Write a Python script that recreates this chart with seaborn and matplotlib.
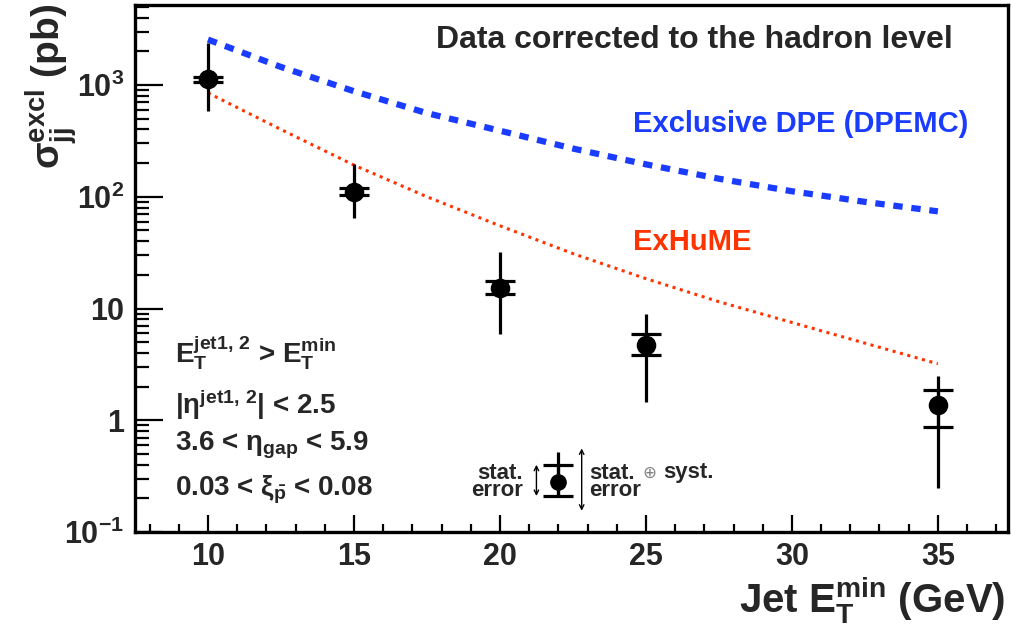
import numpy as np
import pandas as pd
import matplotlib
matplotlib.use("Agg")
import matplotlib.pyplot as plt
import seaborn as sns

# Measured exclusive dijet cross sections
et_min = [10, 15, 20, 25, 35]
sigma = [1130, 110, 15.4, 4.75, 1.38]
stat_lo = [1070, 104, 13.6, 3.87, 0.875]
stat_hi = [1190, 121, 17.8, 5.97, 1.88]
tot_lo = [585, 64, 5.97, 1.47, 0.248]
tot_hi = [2380, 196, 31.8, 9.0, 2.51]

# Model predictions
model_et = [10, 12.5, 15, 17.5, 20, 22.5, 25, 27.5, 30, 32.5, 35]
dpemc = [2550, 1450, 880, 560, 390, 270, 195, 145, 112, 90, 74]
exhume = [850, 400, 192, 100, 55, 31, 18.5, 11.5, 7.5, 4.9, 3.2]

x_ticks = [10, 15, 20, 25, 30, 35]
y_ticks = [0.1, 1, 10, 100, 1000]
y_tick_labels = ["10$^{-1}$", "1", "10", "10$^{2}$", "10$^{3}$"]

sns.set_style("ticks")
plt.rcParams["font.family"] = ["Liberation Sans", "DejaVu Sans"]
plt.rcParams["font.weight"] = "bold"
plt.rcParams["mathtext.fontset"] = "custom"
plt.rcParams["mathtext.rm"] = "Liberation Sans:bold"
plt.rcParams["mathtext.it"] = "Liberation Sans:bold"
plt.rcParams["mathtext.bf"] = "Liberation Sans:bold"
plt.rcParams["mathtext.sf"] = "Liberation Sans:bold"
plt.rcParams["mathtext.default"] = "rm"

BLUE = "#1a3cff"
RED = "#ff3300"

fig = plt.figure(figsize=(10.11, 6.24), dpi=100)
ax = fig.add_axes([0.1335, 0.1474, 0.8635, 0.8446])
ax.set_yscale("log")

models = pd.DataFrame({"et": model_et, "dpemc": dpemc, "exhume": exhume})
sns.lineplot(data=models, x="et", y="dpemc", ax=ax, color=BLUE, lw=4.5,
             linestyle=(0, (1.5, 1.4)), legend=False)
sns.lineplot(data=models, x="et", y="exhume", ax=ax, color=RED, lw=2.2,
             linestyle=(0, (1.0, 1.5)), legend=False)

meas = pd.DataFrame({"et": et_min, "sigma": sigma})
s = np.array(sigma)
ax.errorbar(et_min, sigma, yerr=[s - np.array(tot_lo), np.array(tot_hi) - s],
            fmt="none", ecolor="black", elinewidth=2.3, capsize=0)
ax.errorbar(et_min, sigma, yerr=[s - np.array(stat_lo), np.array(stat_hi) - s],
            fmt="none", ecolor="black", elinewidth=2.3, capsize=10.5, capthick=2.3)
sns.scatterplot(data=meas, x="et", y="sigma", ax=ax, color="black", s=170,
                edgecolor="black", zorder=5, legend=False)
ax.set_xlabel("")
ax.set_ylabel("")

# Error legend sketch
ax.errorbar([22], [0.28], yerr=[[0.28 - 0.21], [0.52 - 0.28]], fmt="none",
            ecolor="black", elinewidth=2.3, capsize=0)
ax.errorbar([22], [0.28], yerr=[[0.28 - 0.21], [0.40 - 0.28]], fmt="o",
            color="black", ms=11, elinewidth=2.3, capsize=10.5, capthick=2.3)
ax.annotate("", xy=(21.25, 0.40), xytext=(21.25, 0.21),
            arrowprops=dict(arrowstyle="<->", lw=1.0, color="black",
                            shrinkA=0, shrinkB=0, mutation_scale=8))
ax.annotate("", xy=(22.8, 0.56), xytext=(22.8, 0.155),
            arrowprops=dict(arrowstyle="<->", lw=1.0, color="black",
                            shrinkA=0, shrinkB=0, mutation_scale=8))
ax.text(20.78, 0.28, "stat.\nerror", ha="right", va="center", fontsize=16,
        fontweight="bold", linespacing=0.8)
t_right = ax.text(23.05, 0.28, "stat.\nerror", ha="left", va="center", fontsize=16,
                  fontweight="bold", linespacing=0.8)
t_plus = ax.annotate("\u2295", xy=(1, 0.74), xycoords=t_right, xytext=(1, 0),
                     textcoords="offset points", ha="left", va="center",
                     fontsize=12, color="#808080", family=["DejaVu Sans"],
                     fontweight="normal")
ax.annotate("syst.", xy=(1, 0.5), xycoords=t_plus, xytext=(5, 0),
            textcoords="offset points", ha="left", va="center",
            fontsize=16, fontweight="bold")

ax.set_xlim(7.5, 37.4)
ax.set_ylim(0.1, 5200)
ax.set_xticks(x_ticks)
ax.set_xticklabels([str(v) for v in x_ticks])
ax.set_xticks(np.arange(8, 38, 1), minor=True)
ax.set_yticks(y_ticks)
ax.set_yticklabels(y_tick_labels)
ax.yaxis.set_minor_locator(matplotlib.ticker.LogLocator(base=10, subs=np.arange(2, 10)))
ax.yaxis.set_minor_formatter(matplotlib.ticker.NullFormatter())

ax.tick_params(axis="both", which="both", direction="in", top=False, right=False,
               labelsize=22, width=1.6, color="black")
ax.tick_params(axis="x", which="major", length=12, pad=7)
ax.tick_params(axis="x", which="minor", length=6)
ax.tick_params(axis="y", which="major", length=20, pad=8)
ax.tick_params(axis="y", which="minor", length=10)
for lab in ax.get_xticklabels() + ax.get_yticklabels():
    lab.set_fontweight("bold")
for sp in ax.spines.values():
    sp.set_linewidth(2.4)
    sp.set_color("black")

# Axis titles placed in figure pixels
W, H = 1011, 624
fig.text(1005 / W, 1 - 613 / H, "Jet E$_{T}^{min}$ (GeV)", ha="right", va="baseline",
         fontsize=29, fontweight="bold")
fig.text(52 / W, 1 - 4 / H, r"$\sigma_{jj}^{excl}$ (pb)", ha="center", va="top",
         rotation=90, fontsize=28, fontweight="bold")

ax.text(0.641, 0.934, "Data corrected to the hadron level", transform=ax.transAxes,
        ha="center", va="center", fontsize=23, fontweight="bold")
ax.text(0.955, 0.775, "Exclusive DPE (DPEMC)", transform=ax.transAxes,
        ha="right", va="center", fontsize=21, fontweight="bold", color=BLUE)
ax.text(0.570, 0.550, "ExHuME", transform=ax.transAxes,
        ha="left", va="center", fontsize=21, fontweight="bold", color=RED)

cuts = ["E$_{T}^{jet1,\\,2}$ > E$_{T}^{min}$",
        "|$\\eta^{jet1,\\,2}$| < 2.5",
        "3.6 < $\\eta_{gap}$ < 5.9",
        "0.03 < $\\xi_{\\bar{p}}$ < 0.08"]
cut_y = [0.340, 0.241, 0.164, 0.080]
for line, yy in zip(cuts, cut_y):
    ax.text(0.046, yy, line, transform=ax.transAxes,
            ha="left", va="center", fontsize=20, fontweight="bold")

ax.set_facecolor("white")
fig.patch.set_facecolor("white")
fig.savefig("out.png", dpi=100)
